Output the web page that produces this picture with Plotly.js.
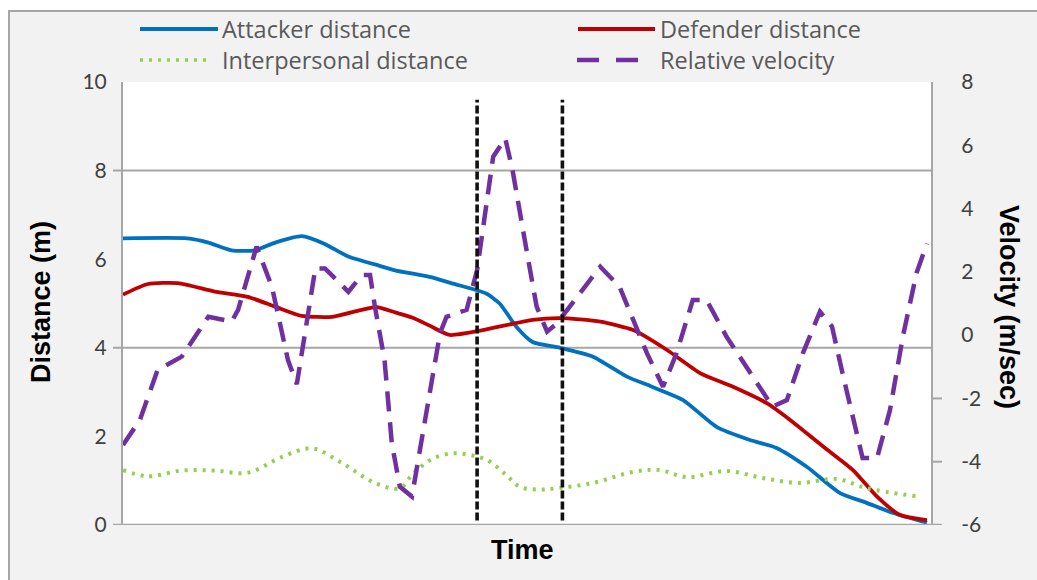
<!DOCTYPE html>
<html><head><meta charset="utf-8">
<script src="https://cdn.plot.ly/plotly-3.0.1.min.js"></script>
<style>
html,body{margin:0;padding:0;background:#fff;}
#wrap{position:relative;width:1037px;height:580px;overflow:hidden;}
#frame{position:absolute;left:8px;top:10px;width:1100px;height:700px;background:#f2f2f2;border:2px solid #a6a6a6;box-sizing:border-box;}
#chart{position:absolute;left:0;top:0;width:1037px;height:580px;}
</style></head>
<body><div id="wrap"><div id="frame"></div><div id="chart"></div></div>
<script>
// ---- data (time in arbitrary units 0..100) ----
const attackerTime = [0,8,10.5,13.5,16.4,19,22.2,25,28,31.9,33.8,38.1,41,44,45.2,46.8,48.9,50.9,54.3,58.4,62.6,65.5,66.7,69.6,73.8,77.9,81.2,85,89.1,92.4,95.7,99.9];
const attackerDist = [6.47,6.47,6.38,6.2,6.2,6.38,6.52,6.35,6.06,5.85,5.75,5.6,5.45,5.3,5.22,5.0,4.47,4.13,4.0,3.8,3.35,3.14,3.05,2.82,2.21,1.92,1.74,1.31,0.72,0.5,0.27,0.05];

const defenderTime = [0,3.1,6.8,11.4,15.5,18.9,22.2,26,29.5,31.5,33.8,36,38.1,40.6,44.7,50.9,54.3,59.3,63.4,67.6,71.7,75.8,80,82.9,87,90.7,93.7,96.5,99.9];
const defenderDist = [5.2,5.44,5.46,5.27,5.15,4.93,4.72,4.7,4.85,4.92,4.8,4.68,4.5,4.29,4.4,4.63,4.67,4.59,4.4,3.95,3.43,3.12,2.75,2.37,1.77,1.24,0.64,0.23,0.11];

const interTime = [0,3.1,7.3,11.4,15.5,19.8,23.5,27.2,31.3,34.4,36,38.5,41,43.1,45.2,47.5,49.3,51.8,53.9,58.4,63.4,66.7,70.1,75,79.5,84.1,88.7,92.4,98.6];
const interDist = [1.24,1.1,1.23,1.23,1.18,1.54,1.73,1.4,0.95,0.83,1.15,1.5,1.62,1.58,1.47,1.15,0.86,0.8,0.83,0.95,1.2,1.24,1.08,1.22,1.06,0.95,1.04,0.83,0.65];

const velTime = [0,2.1,4.3,7.3,10.6,13.5,14.3,16.6,18.5,20.5,21.6,22.6,23.9,25.1,28,29.7,30.7,31.3,32.5,33.4,34.4,35.9,37.3,39.4,40.2,42.7,44,44.7,46,47.5,48.4,50.2,51.4,52.7,53.9,55.2,59.3,61.7,65.1,67.1,68.8,70.8,72.5,75,77.9,80.7,82.5,84.5,86.6,88.1,89.4,91.3,91.9,93.7,95.3,96.9,98.6,99.9];
const relVelocity = [-3.47,-2.68,-1.1,-0.68,0.58,0.43,0.8,2.8,1.53,-0.79,-1.55,0.07,2.11,2.11,1.37,1.9,1.9,0.9,-0.79,-3.41,-4.79,-5.1,-3,0.07,0.58,0.8,2.06,3.32,5.64,6.22,5.22,2.6,0.9,0.11,0.37,0.8,2.16,1.53,-0.57,-1.63,-0.56,1.11,1.11,-0.05,-1.2,-2.26,-2.05,-0.56,0.74,0.27,-1.2,-3.31,-3.88,-3.88,-2.37,-0.05,1.96,2.9];

const phaseMarks = [44.0, 54.6];          // vertical dashed markers (time)
const distTicks = [0,2,4,6,8,10];
const velTicks = [-6,-4,-2,0,2,4,6,8];
const gridAt = [4,8];
const velTickMarksAt = [-2,-4,-6];

const seriesNames = ['Attacker distance','Defender distance','Interpersonal distance','Relative velocity'];

// ---- layout helpers (pixel -> paper) ----
const L=123, R=931, T=82, B=525;
const px = x => (x-L)/(R-L);
const py = y => (B-y)/(B-T);

const cBlue='#0070C0', cRed='#C00000', cGreen='#92D050', cPurple='#7030A0';

const traces = [
  {x:attackerTime,y:attackerDist,name:seriesNames[0],mode:'lines',line:{color:cBlue,width:3.8,shape:'spline',smoothing:0.6},yaxis:'y'},
  {x:defenderTime,y:defenderDist,name:seriesNames[1],mode:'lines',line:{color:cRed,width:3.8,shape:'spline',smoothing:0.6},yaxis:'y'},
  {x:interTime,y:interDist,name:seriesNames[2],mode:'lines',line:{color:cGreen,width:4,dash:'3px,6px',shape:'spline'},yaxis:'y'},
  {x:velTime,y:relVelocity,name:seriesNames[3],mode:'lines',line:{color:cPurple,width:4.5,dash:'20px,11px'},yaxis:'y2'}
];

const shapes = [];
gridAt.forEach(v=>shapes.push({type:'line',xref:'paper',yref:'y',x0:px(113),x1:1,y0:v,y1:v,line:{color:'#a6a6a6',width:2},layer:'below'}));
shapes.push({type:'line',xref:'paper',yref:'y',x0:px(113),x1:px(941),y0:0,y1:0,line:{color:'#a6a6a6',width:2.5}});
velTickMarksAt.forEach(v=>shapes.push({type:'line',xref:'paper',yref:'y2',x0:1,x1:px(942),y0:v,y1:v,line:{color:'#a6a6a6',width:2}}));
phaseMarks.forEach(t=>shapes.push({type:'line',xref:'x',yref:'y',x0:t,x1:t,y0:0.1,y1:9.6,line:{color:'#111',width:3.6,dash:'8px,3px'}}));

// legend keys
const legRow1=29, legRow2=60;
shapes.push({type:'line',xref:'paper',yref:'paper',x0:px(140),x1:px(218),y0:py(legRow1),y1:py(legRow1),line:{color:cBlue,width:4}});
shapes.push({type:'line',xref:'paper',yref:'paper',x0:px(578),x1:px(655),y0:py(legRow1),y1:py(legRow1),line:{color:cRed,width:4}});
shapes.push({type:'line',xref:'paper',yref:'paper',x0:px(140),x1:px(212),y0:py(legRow2),y1:py(legRow2),line:{color:cGreen,width:3.5,dash:'3px,6px'}});
shapes.push({type:'line',xref:'paper',yref:'paper',x0:px(577),x1:px(640),y0:py(legRow2),y1:py(legRow2),line:{color:cPurple,width:4.5,dash:'22px,17px'}});

const legFont={family:'"Open Sans", Lato, sans-serif',size:23.5,color:'#595959'};
const titleFont={family:'"Liberation Sans", Arial, sans-serif',size:27,color:'#000'};
const annotations = [
  {xref:'paper',yref:'paper',x:px(220),y:py(legRow1),xanchor:'left',yanchor:'middle',text:seriesNames[0],showarrow:false,font:legFont},
  {xref:'paper',yref:'paper',x:px(658),y:py(legRow1),xanchor:'left',yanchor:'middle',text:seriesNames[1],showarrow:false,font:legFont},
  {xref:'paper',yref:'paper',x:px(220),y:py(legRow2),xanchor:'left',yanchor:'middle',text:seriesNames[2],showarrow:false,font:legFont},
  {xref:'paper',yref:'paper',x:px(658),y:py(legRow2),xanchor:'left',yanchor:'middle',text:seriesNames[3],showarrow:false,font:legFont},
  {xref:'paper',yref:'paper',x:px(41),y:py(302),xanchor:'center',yanchor:'middle',textangle:-90,text:'<b>Distance (m)</b>',showarrow:false,font:titleFont},
  {xref:'paper',yref:'paper',x:px(1009),y:py(307),xanchor:'center',yanchor:'middle',textangle:90,text:'<b>Velocity (m/sec)</b>',showarrow:false,font:titleFont},
  {xref:'paper',yref:'paper',x:px(522),y:py(550),xanchor:'center',yanchor:'middle',text:'<b>Time</b>',showarrow:false,font:titleFont}
];

const tickFont={family:'Lato, "Open Sans", sans-serif',size:21,color:'#404040'};
const layout = {
  width:1037,height:580,
  margin:{l:L,r:1037-R,t:T,b:580-B,pad:0},
  paper_bgcolor:'rgba(0,0,0,0)',plot_bgcolor:'#fff',
  showlegend:false,
  xaxis:{range:[0,100.4],showticklabels:false,ticks:'',showgrid:false,zeroline:false,showline:false},
  yaxis:{range:[0,10],tickvals:distTicks,ticktext:distTicks.map(String),showgrid:false,zeroline:false,
         showline:true,linecolor:'#a6a6a6',linewidth:2,ticks:'',ticklabelstandoff:10,tickfont:tickFont},
  yaxis2:{range:[-6,8],tickvals:velTicks,ticktext:velTicks.map(String),overlaying:'y',side:'right',showgrid:false,zeroline:false,
          showline:true,linecolor:'#a6a6a6',linewidth:2,ticks:'',ticklabelstandoff:24,tickfont:tickFont},
  shapes:shapes,annotations:annotations
};
Plotly.newPlot('chart',traces,layout,{displayModeBar:false,staticPlot:true});
</script></body></html>
